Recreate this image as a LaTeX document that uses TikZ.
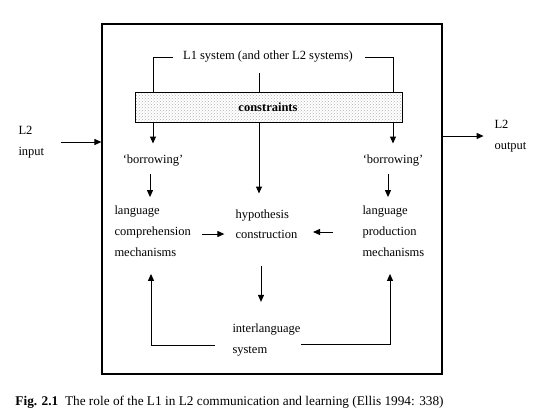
\documentclass[tikz,border=0pt]{standalone}
\usepackage{fontspec}
\setmainfont{Liberation Serif}
\usetikzlibrary{arrows.meta,positioning,calc,patterns}

\begin{document}
\begin{tikzpicture}[x=1pt,y=-1pt,>={Triangle[length=7pt,width=6pt]},line width=1pt,font=\fontsize{12.5}{21}\selectfont]
\tikzstyle{t}=[inner sep=0pt,align=left,anchor=west]
\useasboundingbox (0,0) rectangle (540,418);
% outer frame
\node[draw,line width=1.2pt,minimum width=340pt,minimum height=350pt,inner sep=0pt] (frame) at (272,199) {};
\node[inner sep=0pt] (lone) at (268,57) {L1 system (and other L2 systems)};
\node[draw,pattern=crosshatch dots,pattern color=gray!60,minimum width=267pt,minimum height=30pt,inner sep=0pt] (cons) at (268.5,107) {};
\node[inner sep=0pt,font=\fontsize{12.5}{21}\selectfont\bfseries] (constxt) at (268,107) {constraints};
\node[inner sep=0pt] (bl) at (153,161) {`borrowing'};
\node[inner sep=0pt] (br) at (393,161) {`borrowing'};
\node[t] (lcomp) at (114,231) {language\\comprehension\\mechanisms};
\node[t] (lprod) at (362,231) {language\\production\\mechanisms};
\node[t,font=\fontsize{12.5}{20}\selectfont] (hyp) at (235,224) {hypothesis\\construction};
\node[t,font=\fontsize{12.5}{21}\selectfont] (inter) at (232,340) {interlanguage\\system};
\node[t] (in) at (18,142) {L2\\input};
\node[t] (out) at (494,136) {L2\\output};
\node[t,anchor=base west,font=\fontsize{13.3}{15}\selectfont] (cap) at (15,405) {\textbf{Fig. 2.1}\enspace The role of the L1 in L2 communication and learning (Ellis 1994: 338)};
% L1 bracket
\draw (lone.west) ++(-10,0) -| (cons.north -| bl.center);
\draw (lone.east) ++(12,0) -| (cons.north -| br.center);
\draw (cons.north -| 259,0) -- ++(0,-19);
% arrows
\draw[->] (cons.south -| bl.center) -- ++(0,21);
\draw[->] (cons.south -| br.center) -- ++(0,21);
\draw[->] (cons.south -| 259,0) -- ++(0,71);
\draw[->,shorten <=7pt,shorten >=8pt] (bl.south -| 150,0) -- (lcomp.north -| 150,0);
\draw[->,shorten <=7pt,shorten >=8pt] (br.south -| 388,0) -- (lprod.north -| 388,0);
\draw[->] (lcomp.east |- 0,234) ++(11,0) -- ++(22,0);
\draw[->] (lprod.west |- 0,232) ++(-29,0) -- ++(-20,0);
\draw[->] (hyp.south -| 261,0) ++(0,27) -- ++(0,36);
\draw[->,shorten >=17pt] (inter.west |- 0,345) ++(-17,0) -| (lcomp.south -| 151,0);
\draw[->,shorten >=17pt] (inter.east |- 0,344) -| (lprod.south -| 390,0);
\draw[->] (in.east |- 0,142) ++(16,0) -- (frame.west |- 0,142);
\draw[->] (frame.east |- 0,136) -- ++(41,0);
\end{tikzpicture}
\end{document}
